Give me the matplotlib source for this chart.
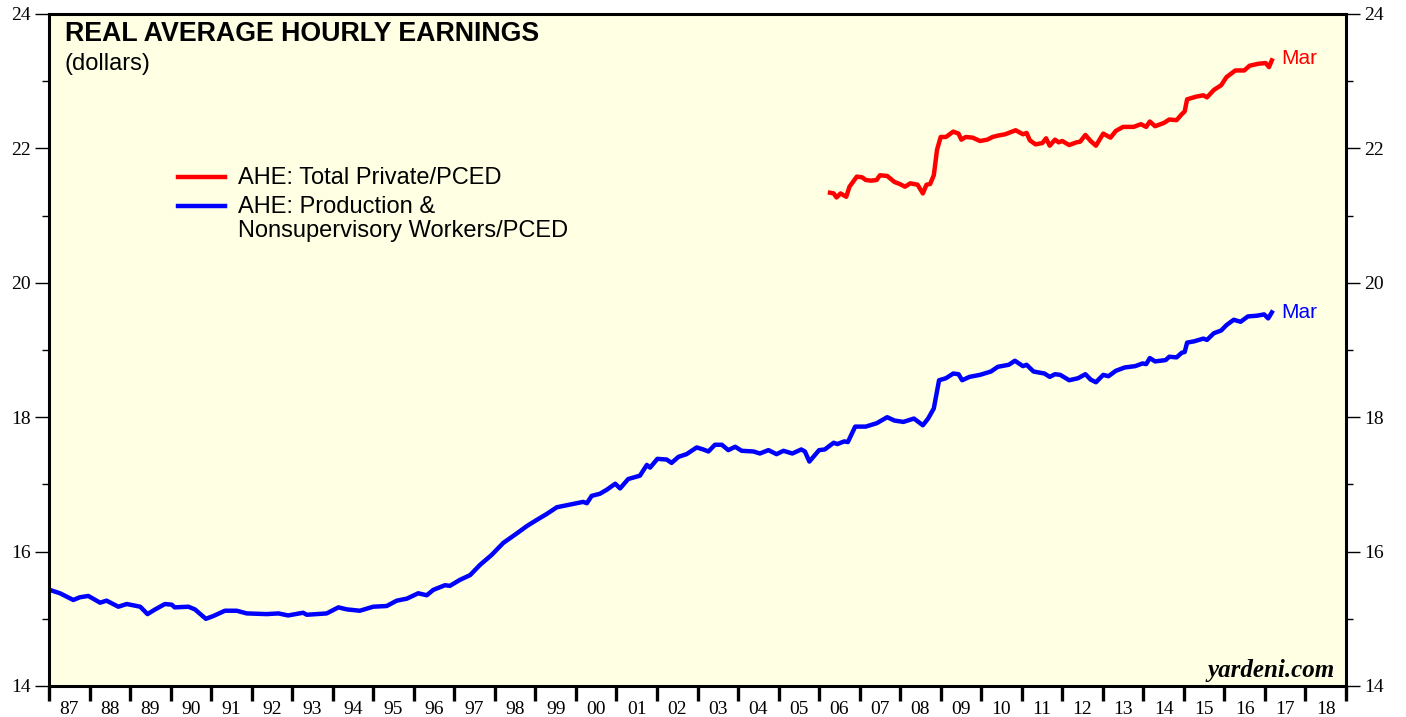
import matplotlib
matplotlib.use("Agg")
import matplotlib.pyplot as plt
from matplotlib.ticker import MultipleLocator, FixedLocator, NullFormatter

# Real AHE, production & nonsupervisory workers / PCED (dollars)
blue_t = [1987.02, 1987.27, 1987.60, 1987.76, 1987.97, 1988.26, 1988.42, 1988.71, 1988.92,
          1989.25, 1989.43, 1989.62, 1989.86, 1990.03, 1990.10, 1990.44, 1990.60, 1990.87,
          1991.05, 1991.34, 1991.63, 1991.88, 1992.37, 1992.66, 1992.90, 1993.27, 1993.36,
          1993.85, 1994.14, 1994.35, 1994.67, 1995.00, 1995.33, 1995.58, 1995.83, 1996.11,
          1996.32, 1996.48, 1996.77, 1996.89, 1997.14, 1997.39, 1997.63, 1997.92, 1998.21,
          1998.54, 1998.79, 1999.03, 1999.28, 1999.53, 1999.77, 2000.18, 2000.27, 2000.39,
          2000.59, 2000.76, 2000.97, 2001.09, 2001.29, 2001.58, 2001.75, 2001.83, 2002.01,
          2002.24, 2002.36, 2002.53, 2002.73, 2002.98, 2003.14, 2003.27, 2003.43, 2003.60,
          2003.76, 2003.93, 2004.09, 2004.38, 2004.54, 2004.75, 2004.95, 2005.12, 2005.34,
          2005.56, 2005.65, 2005.76, 2006.00, 2006.14, 2006.36, 2006.45, 2006.62, 2006.71,
          2006.89, 2007.15, 2007.42, 2007.68, 2007.86, 2008.08, 2008.34, 2008.56, 2008.69,
          2008.83, 2008.96, 2009.13, 2009.31, 2009.44, 2009.53, 2009.71, 2009.97, 2010.24,
          2010.41, 2010.68, 2010.83, 2011.03, 2011.12, 2011.29, 2011.56, 2011.69, 2011.82,
          2011.95, 2012.17, 2012.39, 2012.57, 2012.70, 2012.83, 2013.01, 2013.14, 2013.32,
          2013.54, 2013.80, 2013.98, 2014.07, 2014.16, 2014.29, 2014.55, 2014.64, 2014.82,
          2014.95, 2015.02, 2015.08, 2015.26, 2015.48, 2015.57, 2015.74, 2015.92, 2016.05,
          2016.23, 2016.40, 2016.58, 2016.80, 2016.98, 2017.08, 2017.17]
blue_v = [15.43, 15.38, 15.28, 15.32, 15.34, 15.24, 15.27, 15.18, 15.22,
          15.18, 15.07, 15.14, 15.22, 15.21, 15.17, 15.18, 15.14, 15.00,
          15.04, 15.12, 15.12, 15.08, 15.07, 15.08, 15.05, 15.09, 15.06,
          15.08, 15.17, 15.14, 15.12, 15.18, 15.19, 15.27, 15.30, 15.38,
          15.35, 15.43, 15.50, 15.49, 15.58, 15.65, 15.80, 15.95, 16.13,
          16.27, 16.38, 16.47, 16.56, 16.66, 16.69, 16.74, 16.72, 16.83,
          16.86, 16.92, 17.01, 16.94, 17.08, 17.13, 17.29, 17.25, 17.38,
          17.37, 17.32, 17.41, 17.45, 17.55, 17.52, 17.49, 17.59, 17.59,
          17.51, 17.56, 17.50, 17.49, 17.46, 17.51, 17.45, 17.50, 17.46,
          17.52, 17.49, 17.34, 17.51, 17.52, 17.62, 17.60, 17.64, 17.63,
          17.86, 17.86, 17.91, 18.00, 17.95, 17.93, 17.98, 17.88, 17.98,
          18.13, 18.55, 18.58, 18.65, 18.64, 18.55, 18.60, 18.63, 18.68,
          18.75, 18.78, 18.84, 18.76, 18.78, 18.68, 18.65, 18.60, 18.64,
          18.63, 18.55, 18.58, 18.64, 18.56, 18.52, 18.63, 18.61, 18.69,
          18.74, 18.76, 18.80, 18.79, 18.88, 18.83, 18.85, 18.90, 18.89,
          18.96, 18.97, 19.11, 19.13, 19.17, 19.15, 19.25, 19.29, 19.37,
          19.45, 19.42, 19.50, 19.51, 19.53, 19.47, 19.56]

# Real AHE, total private / PCED (dollars)
red_t = [2006.27, 2006.36, 2006.43, 2006.53, 2006.67, 2006.75, 2006.93, 2007.06, 2007.15,
         2007.28, 2007.42, 2007.50, 2007.68, 2007.86, 2007.99, 2008.12, 2008.25, 2008.43,
         2008.56, 2008.65, 2008.74, 2008.83, 2008.91, 2009.00, 2009.13, 2009.31, 2009.44,
         2009.51, 2009.62, 2009.79, 2009.97, 2010.15, 2010.28, 2010.41, 2010.59, 2010.85,
         2011.03, 2011.12, 2011.20, 2011.34, 2011.51, 2011.60, 2011.69, 2011.82, 2011.91,
         2012.00, 2012.17, 2012.35, 2012.44, 2012.57, 2012.70, 2012.83, 2013.01, 2013.19,
         2013.32, 2013.50, 2013.76, 2013.94, 2014.07, 2014.16, 2014.29, 2014.51, 2014.64,
         2014.82, 2014.95, 2015.02, 2015.08, 2015.30, 2015.48, 2015.57, 2015.74, 2015.92,
         2016.05, 2016.27, 2016.49, 2016.62, 2016.84, 2017.02, 2017.10, 2017.17]
red_v = [21.34, 21.33, 21.27, 21.33, 21.28, 21.43, 21.58, 21.57, 21.53,
         21.52, 21.53, 21.60, 21.59, 21.50, 21.47, 21.43, 21.48, 21.46,
         21.33, 21.46, 21.47, 21.60, 21.98, 22.17, 22.17, 22.25, 22.22,
         22.13, 22.17, 22.16, 22.11, 22.13, 22.17, 22.19, 22.21, 22.27,
         22.21, 22.23, 22.12, 22.06, 22.08, 22.15, 22.04, 22.13, 22.09,
         22.11, 22.05, 22.09, 22.10, 22.20, 22.11, 22.04, 22.22, 22.16,
         22.26, 22.32, 22.32, 22.36, 22.32, 22.40, 22.33, 22.38, 22.43,
         22.42, 22.51, 22.55, 22.73, 22.77, 22.79, 22.76, 22.87, 22.94,
         23.06, 23.16, 23.16, 23.23, 23.26, 23.27, 23.21, 23.31]

years = list(range(1987, 2019))
year_labels = [f"{y % 100:02d}" for y in years]

W, H = 1406, 717
L, R, T, B = 49, 1346, 14, 686

fig = plt.figure(figsize=(W / 100, H / 100), dpi=100)
ax = fig.add_axes([L / W, 1 - B / H, (R - L) / W, (B - T) / H])
ax.set_facecolor("#FFFFE3")

ax.plot(red_t, red_v, color="#FF0000", lw=3.2, solid_joinstyle="round")
ax.plot(blue_t, blue_v, color="#0000FF", lw=3.2, solid_joinstyle="round")

ax.set_xlim(1987, 2019)
ax.set_ylim(14, 24)

for s in ax.spines.values():
    s.set_linewidth(2.2)
    s.set_color("black")

serif = "Liberation Serif"
sans = "Liberation Sans"

# y axis, both sides
ax.yaxis.set_major_locator(MultipleLocator(2))
ax.yaxis.set_minor_locator(MultipleLocator(1))
ax.tick_params(axis="y", which="major", direction="out", length=10, width=1,
               left=True, right=True, labelleft=True, labelright=True,
               labelsize=14, pad=3)
ax.tick_params(axis="y", which="minor", direction="out", length=5, width=1,
               left=True, right=True)
for lab in ax.get_yticklabels():
    lab.set_fontfamily(serif)

# x axis: ticks at year boundaries, labels centered in each year
ax.xaxis.set_major_locator(FixedLocator(years + [2019]))
ax.xaxis.set_major_formatter(NullFormatter())
ax.xaxis.set_minor_locator(FixedLocator([y + 0.5 for y in years]))
ax.set_xticklabels(year_labels, minor=True)
ax.tick_params(axis="x", which="major", direction="out", length=11, width=2.4)
ax.tick_params(axis="x", which="minor", length=0, labelsize=14, pad=11)
for lab in ax.get_xticklabels(minor=True):
    lab.set_fontfamily(serif)


def fx(px):
    return (px - L) / (R - L)


def fy(py):
    return (B - py) / (B - T)


ax.text(fx(65), fy(34), "REAL AVERAGE HOURLY EARNINGS", transform=ax.transAxes,
        fontfamily=sans, fontweight="bold", fontsize=19.3, va="center", ha="left")
ax.text(fx(65), fy(64), "(dollars)", transform=ax.transAxes,
        fontfamily=sans, fontsize=17, va="center", ha="left")

# legend
ax.plot([fx(178), fx(225)], [fy(177), fy(177)], transform=ax.transAxes,
        color="#FF0000", lw=3.2, clip_on=False)
ax.plot([fx(178), fx(225)], [fy(206), fy(206)], transform=ax.transAxes,
        color="#0000FF", lw=3.2, clip_on=False)
ax.text(fx(238), fy(178), "AHE: Total Private/PCED", transform=ax.transAxes,
        fontfamily=sans, fontsize=17, va="center", ha="left")
ax.text(fx(238), fy(207), "AHE: Production &", transform=ax.transAxes,
        fontfamily=sans, fontsize=17, va="center", ha="left")
ax.text(fx(238), fy(231), "Nonsupervisory Workers/PCED", transform=ax.transAxes,
        fontfamily=sans, fontsize=17, va="center", ha="left")

# end labels
ax.annotate("Mar", (red_t[-1], red_v[-1]), xytext=(7, 1), textcoords="offset points",
            color="#FF0000", fontfamily=sans, fontsize=15, va="center", ha="left")
ax.annotate("Mar", (blue_t[-1], blue_v[-1]), xytext=(7, 0), textcoords="offset points",
            color="#0000FF", fontfamily=sans, fontsize=15, va="center", ha="left")

ax.text(fx(1335), fy(671), "yardeni.com", transform=ax.transAxes,
        fontfamily=serif, fontstyle="italic", fontweight="bold", fontsize=18,
        va="center", ha="right")

fig.savefig("out.png", dpi=100)
